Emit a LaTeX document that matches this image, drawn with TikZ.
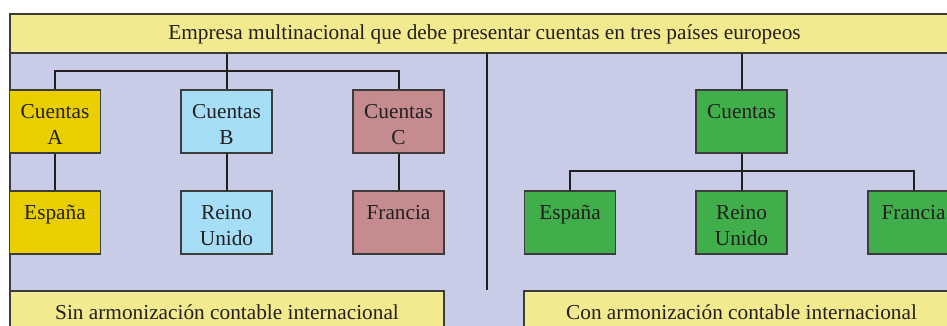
\documentclass[tikz,border=0pt]{standalone}
\usepackage{fontspec}
\setmainfont{Liberation Serif}
\definecolor{bandyellow}{RGB}{242,234,142}
\definecolor{bgblue}{RGB}{200,204,230}
\definecolor{yellowA}{RGB}{233,207,0}
\definecolor{blueB}{RGB}{166,222,248}
\definecolor{roseC}{RGB}{196,140,143}
\definecolor{greenR}{RGB}{64,174,74}
\definecolor{ink}{RGB}{35,31,32}
\definecolor{edge}{RGB}{60,60,60}
\newcommand{\tp}{\rule{0pt}{19.5pt}}
\begin{document}
\begin{tikzpicture}[x=1pt,y=-1pt,
	box/.style={draw=edge, line width=1.3pt, minimum width=91pt, minimum height=63pt, align=center, inner sep=0pt, text=ink, font=\fontsize{21.3}{26}\selectfont},
	band/.style={draw=edge, line width=1.3pt, fill=bandyellow, inner sep=0pt, text=ink, font=\fontsize{21.3}{26}\selectfont, execute at begin node=\rule{0pt}{17.5pt}},
	tree/.style={ink, line width=2pt}]
	\useasboundingbox (0,0) rectangle (947,325);
	\clip (0,0) rectangle (947,325);
	\fill[bgblue] (10,53) rectangle (959,335);
	\draw[edge, line width=1.3pt] (10,335) -- (10,53);
	\node[band, minimum width=949pt, minimum height=39pt] (title) at (484.5,33.5) {Empresa multinacional que debe presentar cuentas en tres países europeos};
	\node[box, fill=yellowA] (ca) at (55,121.5) {\tp Cuentas\\A};
	\node[box, fill=blueB] (cb) at (226.5,121.5) {\tp Cuentas\\B};
	\node[box, fill=roseC] (cc) at (398.5,121.5) {\tp Cuentas\\C};
	\node[box, fill=yellowA] (es1) at (55,222.5) {\tp España\\\phantom{A}};
	\node[box, fill=blueB] (ru1) at (226.5,222.5) {\tp Reino\\Unido};
	\node[box, fill=roseC] (fr1) at (398.5,222.5) {\tp Francia\\\phantom{A}};
	\node[box, fill=greenR] (cr) at (741.5,121.5) {\tp Cuentas\\\phantom{A}};
	\node[box, fill=greenR] (es2) at (570,222.5) {\tp España\\\phantom{A}};
	\node[box, fill=greenR] (ru2) at (741.5,222.5) {\tp Reino\\Unido};
	\node[box, fill=greenR] (fr2) at (913.5,222.5) {\tp Francia\\\phantom{A}};
	\node[band, minimum width=434pt, minimum height=40pt] (sin) at (227,311) {Sin armonización contable internacional};
	\node[band, minimum width=435pt, minimum height=40pt] (con) at (741.5,311) {Con armonización contable internacional};
	\coordinate (dtop) at (487,53);
	\coordinate (dbot) at (487,290);
	\draw[tree] (dtop) -- (dbot);
	\draw[tree] (title.south -| cb.north) -- (cb.north);
	\draw[tree] (ca.north) -- ++(0,-18) -| (cc.north);
	\draw[tree] (ca.south) -- (es1.north);
	\draw[tree] (cb.south) -- (ru1.north);
	\draw[tree] (cc.south) -- (fr1.north);
	\draw[tree] (title.south -| cr.north) -- (cr.north);
	\draw[tree] (cr.south) -- (ru2.north);
	\draw[tree] (es2.north) -- ++(0,-19) -| (fr2.north);
\end{tikzpicture}
\end{document}
